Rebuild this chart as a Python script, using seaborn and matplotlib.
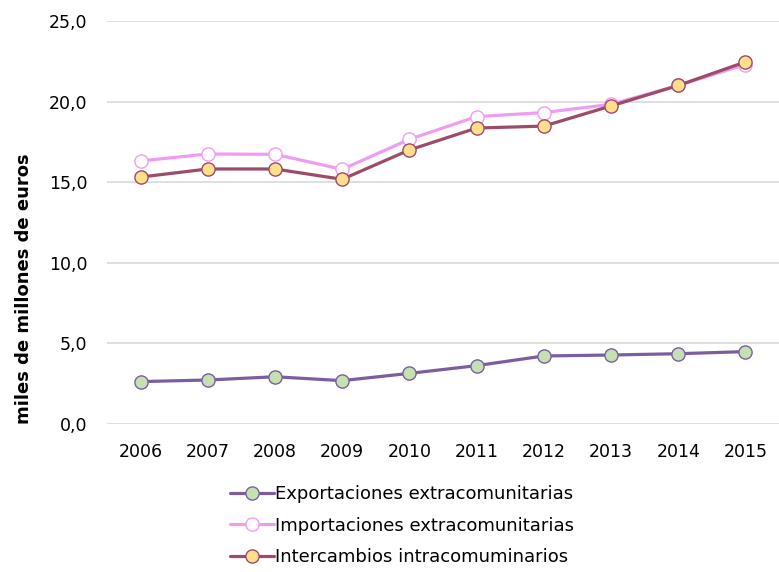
"""Comercio exterior 2006-2015."""
import matplotlib

matplotlib.use("Agg")
import matplotlib.pyplot as plt
import pandas as pd
import seaborn as sns
from matplotlib.ticker import FuncFormatter

years = [2006, 2007, 2008, 2009, 2010, 2011, 2012, 2013, 2014, 2015]
exportaciones = [2.63, 2.73, 2.93, 2.69, 3.14, 3.62, 4.22, 4.28, 4.36, 4.49]
importaciones = [16.32, 16.75, 16.73, 15.8, 17.66, 19.07, 19.32, 19.83, 21.0, 22.3]
intercambios = [15.32, 15.82, 15.82, 15.18, 17.0, 18.36, 18.48, 19.73, 21.0, 22.46]

series_names = [
    "Exportaciones extracomunitarias",
    "Importaciones extracomunitarias",
    "Intercambios intracomuminarios",
]
line_colors = ["#7b5ea0", "#f09cf4", "#9c4b6b"]
face_colors = ["#c5e0b3", "#ffffff", "#ffdf8c"]

sns.set_theme(style="whitegrid")
plt.rcParams["font.family"] = ["DejaVu Sans"]

df = pd.DataFrame(
    {
        "year": years * 3,
        "value": exportaciones + importaciones + intercambios,
        "serie": sum([[n] * len(years) for n in series_names], []),
    }
)

fig = plt.figure(figsize=(7.79, 5.72), dpi=100)
ax = fig.add_axes([107 / 779, 1 - 424 / 572, 672 / 779, 403 / 572])

for name, lc, fc in zip(series_names, line_colors, face_colors):
    sns.lineplot(
        data=df[df["serie"] == name],
        x="year",
        y="value",
        ax=ax,
        color=lc,
        lw=2.3,
        marker="o",
        markersize=9.5,
        markerfacecolor=fc,
        markeredgecolor=lc,
        markeredgewidth=1.0,
        label=name,
    )

ax.set_xlim(2005.5, 2015.5)
ax.set_ylim(0, 25)
ax.set_xticks(years)
ax.set_yticks([0, 5, 10, 15, 20, 25])
ax.yaxis.set_major_formatter(FuncFormatter(lambda v, _: f"{v:.1f}".replace(".", ",")))
ax.grid(axis="x", visible=False)
ax.grid(axis="y", color="#d9d9d9", lw=1.2)
for s in ax.spines.values():
    s.set_visible(False)
ax.tick_params(axis="both", labelsize=12.5, colors="black", pad=8)
ax.set_xlabel("")
ax.set_ylabel("miles de millones de euros", fontsize=13, fontweight="bold", color="black")
ax.yaxis.set_label_coords(-0.11, 0.335)

handles, labels = ax.get_legend_handles_labels()
ax.legend_.remove()
fig.legend(
    handles,
    labels,
    loc="upper left",
    bbox_to_anchor=(223 / 779, 1 - 478 / 572),
    frameon=False,
    fontsize=13,
    labelcolor="black",
    handlelength=2.4,
    handletextpad=0.1,
    labelspacing=0.75,
    borderaxespad=0,
)

fig.savefig("out.png", dpi=100)
